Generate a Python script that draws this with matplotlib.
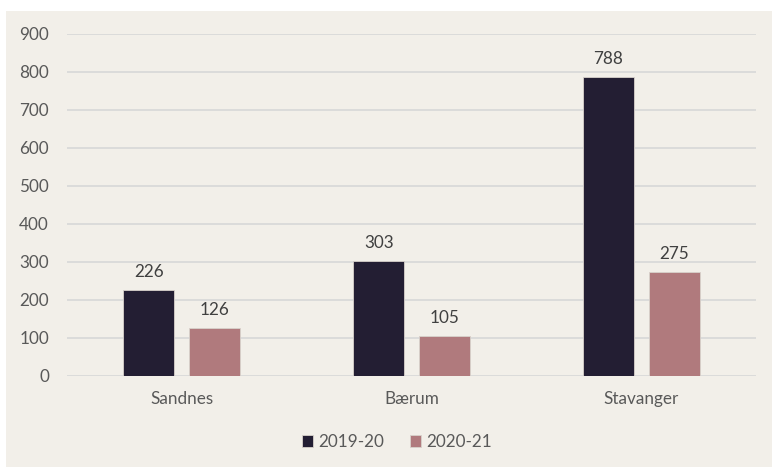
import matplotlib
matplotlib.use('Agg')
import matplotlib.pyplot as plt
import numpy as np
from matplotlib.patches import Rectangle

plt.rcParams['font.family'] = ['Lato', 'DejaVu Sans']

# Data
cities = ['Sandnes', 'Bærum', 'Stavanger']
series_names = ['2019-20', '2020-21']
values_2019 = [226, 303, 788]
values_2020 = [126, 105, 275]

bg = '#f2efe9'
text_col = '#595959'
colors = ['#231e33', '#b07a7d']
fs = 12.3

fig = plt.figure(figsize=(7.72, 4.67), dpi=100)
fig.patch.set_facecolor('white')
fig.patches.append(Rectangle((6 / 772, 0), 1, 1 - 11 / 467, transform=fig.transFigure,
                             facecolor=bg, edgecolor='none', zorder=-10))

ax = fig.add_axes([67 / 772, 1 - 376 / 467, (756 - 67) / 772, (376 - 34) / 467])
ax.set_facecolor('none')

x = np.arange(len(cities))
width = 0.222
offset = 0.143
for vals, col, name, sign in zip([values_2019, values_2020], colors, series_names, [-1, 1]):
    bars = ax.bar(x + sign * offset, vals, width, color=col, label=name,
                  edgecolor='#d8d2cc', linewidth=0.6, zorder=3)
    for b, v in zip(bars, vals):
        ax.annotate(str(v), (b.get_x() + b.get_width() / 2, v), xytext=(0, 7),
                    textcoords='offset points', ha='center', va='bottom',
                    fontsize=fs, color='#404040')

ax.set_xlim(-0.5, 2.5)
ax.set_ylim(0, 900)
ax.set_yticks(range(0, 901, 100))
ax.set_xticks(x)
ax.set_xticklabels(cities)
ax.yaxis.grid(True, color='#d9d9d9', linewidth=1.3, zorder=0)
ax.set_axisbelow(True)
for s in ax.spines.values():
    s.set_visible(False)
ax.tick_params(length=0, labelsize=fs, labelcolor=text_col)
ax.tick_params(axis='y', pad=13)
ax.tick_params(axis='x', pad=11)

leg = ax.legend(loc='upper center', bbox_to_anchor=(0.479, -0.125), ncol=2, frameon=False,
                fontsize=fs, handlelength=0.65, handleheight=0.65, handletextpad=0.3,
                columnspacing=1.5)
for t in leg.get_texts():
    t.set_color(text_col)

fig.savefig('out.png', dpi=100)
